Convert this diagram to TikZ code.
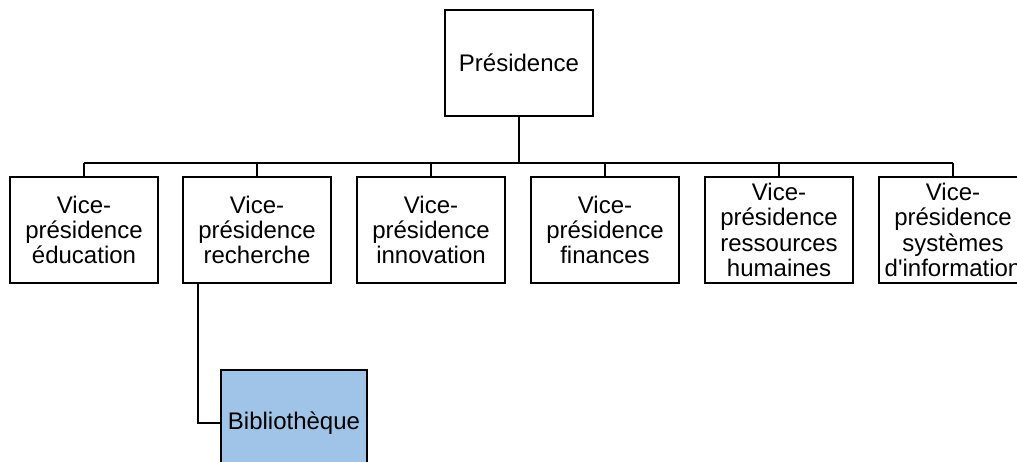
\documentclass[tikz,border=0pt]{standalone}
\usepackage{fontspec}
\setmainfont{Liberation Sans}
\usepackage{tikz}
\tikzset{every picture/.style={line width=1.5pt}}
\definecolor{bibblue}{RGB}{159,196,231}

\begin{document}
\begin{tikzpicture}[x=0.75pt,y=0.75pt,yscale=-1,xscale=1,
	unitbox/.style={draw, align=center, minimum width=111pt, minimum height=79.5pt, inner sep=0pt, font=\fontsize{18}{19}\selectfont}]
	\useasboundingbox (0,0) rectangle (1017,461);
	
	% Text Node
	\node [unitbox] (pres) at (519,63) {Présidence};
	% Text Node
	\node [unitbox] (edu) at (84,230) {Vice-\\présidence\\éducation};
	% Text Node
	\node [unitbox] (rech) at (257,230) {Vice-\\présidence\\recherche};
	% Text Node
	\node [unitbox] (inno) at (431,230) {Vice-\\présidence\\innovation};
	% Text Node
	\node [unitbox] (fin) at (605,230) {Vice-\\présidence\\finances};
	% Text Node
	\node [unitbox] (rh) at (779,230) {Vice-\\présidence\\ressources\\humaines};
	% Text Node
	\node [unitbox] (sys) at (953,230) {Vice-\\présidence\\systèmes\\d\textquotesingle information};
	% Text Node
	\node [unitbox, fill=bibblue, minimum width=109.5pt] (bib) at (294,423) {Bibliothèque};
	
	%Straight Lines
	\coordinate (bus) at (519,163);
	\draw (pres.south) -- (pres.south |- bus);
	\draw (edu.north |- bus) -- (sys.north |- bus);
	\foreach \vp in {edu,rech,inno,fin,rh,sys}
		\draw (\vp.north) -- (\vp.north |- bus);
	
	%Straight Lines
	\draw ([xshift=12pt]rech.south west) |- (bib.west);
	
\end{tikzpicture}
\end{document}
